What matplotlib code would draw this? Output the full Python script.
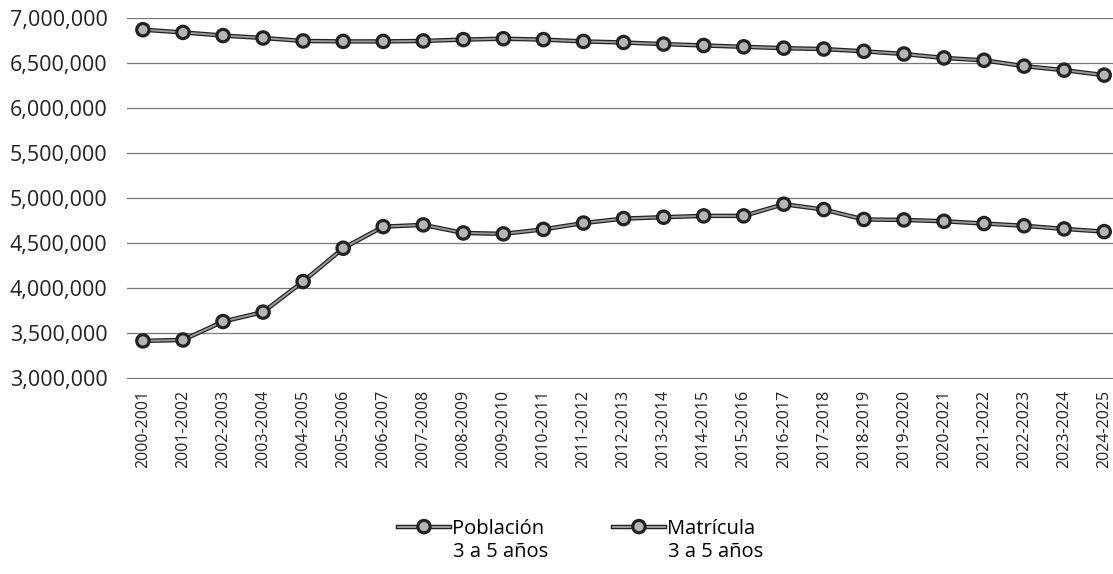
import matplotlib.pyplot as plt
import matplotlib.patheffects as pe
from matplotlib.ticker import FuncFormatter

ciclos = ["2000-2001", "2001-2002", "2002-2003", "2003-2004", "2004-2005",
          "2005-2006", "2006-2007", "2007-2008", "2008-2009", "2009-2010",
          "2010-2011", "2011-2012", "2012-2013", "2013-2014", "2014-2015",
          "2015-2016", "2016-2017", "2017-2018", "2018-2019", "2019-2020",
          "2020-2021", "2021-2022", "2022-2023", "2023-2024", "2024-2025"]

poblacion = [6870000, 6840000, 6805000, 6778000, 6745000, 6740000, 6740000,
             6745000, 6760000, 6770000, 6760000, 6740000, 6728000, 6710000,
             6695000, 6680000, 6665000, 6655000, 6630000, 6600000, 6556000,
             6530000, 6465000, 6420000, 6365000]

matricula = [3410000, 3420000, 3625000, 3730000, 4070000, 4440000, 4680000,
             4700000, 4610000, 4600000, 4650000, 4720000, 4770000, 4785000,
             4800000, 4800000, 4930000, 4870000, 4760000, 4755000, 4740000,
             4715000, 4690000, 4655000, 4625000]

series = ["Población", "Matrícula"]
subtitulo = "3 a 5 años"

plt.rcParams['font.family'] = ['Open Sans', 'DejaVu Sans']

fig = plt.figure(figsize=(11.13, 5.74), dpi=100)
ax = fig.add_axes([0.114, 0.3400, 0.886, 0.6286])

x = list(range(len(ciclos)))
outline = [pe.Stroke(linewidth=3.2, foreground='#222222'), pe.Normal()]
for vals, name in zip([poblacion, matricula], series):
    ax.plot(x, vals, color='#9a9a9a', lw=1.4, marker='o', markersize=8,
            mfc='#b5b5b5', mec='#222222', mew=1.4, label=name,
            path_effects=outline, zorder=3)

ax.set_ylim(2988000, 7000000)
ax.set_yticks(range(3000000, 7000001, 500000))
ax.yaxis.set_major_formatter(FuncFormatter(lambda v, p: f"{int(v):,}"))
ax.set_xlim(-0.4, 24.22)
ax.set_xticks(x)
ax.set_xticklabels(ciclos, rotation=90, fontsize=11.5)
ax.tick_params(axis='y', labelsize=15.5, length=0, pad=14, labelcolor='#222222')
ax.tick_params(axis='x', length=0, pad=8, labelcolor='#222222')
ax.grid(axis='y', color='#777777', lw=0.9)
ax.set_axisbelow(True)
for s in ax.spines.values():
    s.set_visible(False)

leg = fig.legend(loc='lower center', bbox_to_anchor=(0.518, 0.03), ncol=2,
                 frameon=False, fontsize=14.5, handlelength=2.6,
                 handletextpad=0.1, columnspacing=3.4)

# second line of each legend label, under the first one
fig.canvas.draw()
for t in leg.get_texts():
    bb = t.get_window_extent().transformed(fig.transFigure.inverted())
    fig.text(bb.x0 + 0.001, bb.y0 - 0.006, subtitulo, fontsize=14.5,
             color=t.get_color(), ha='left', va='top')

fig.savefig("out.png", dpi=100)
